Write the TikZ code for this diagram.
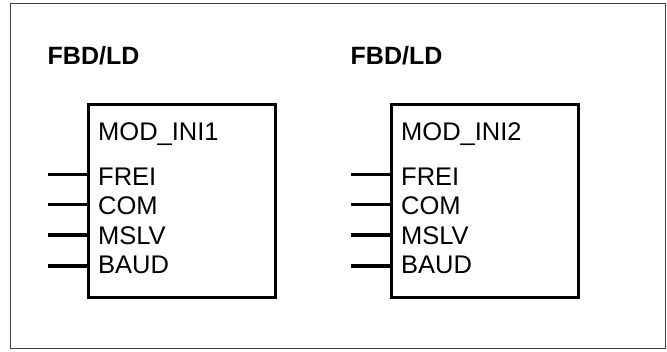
\documentclass[tikz,border=0pt]{standalone}
\usepackage{fontspec}
\setmainfont{Liberation Sans}
\begin{document}
\begin{tikzpicture}[x=1pt,y=-1pt,
  frame/.style={draw=black!75,line width=1.2pt},
  block/.style={draw,line width=3.3pt,minimum width=187pt,minimum height=193pt,inner sep=0pt,anchor=north west},
  pin/.style={line width=3.3pt},
  title/.style={font=\fontsize{25}{25}\selectfont\bfseries,inner sep=0pt,anchor=base west},
  lbl/.style={font=\fontsize{25.5}{25.5}\selectfont,inner sep=0pt,anchor=base west}]
\useasboundingbox (0,0) rectangle (667,351);
\draw[frame] (10.5,3.5) rectangle (665.5,348.5);
\foreach \i/\dx in {1/0,2/303}{
  \begin{scope}[xshift=\dx pt]
  \node[title] (t\i) at (47.5,64) {FBD/LD};
  \node[block] (b\i) at (87,103) {};
  \node[lbl] (n\i) at (98,140) {MOD\_INI\i};
  \node[lbl] (l\i a) at (98,185) {FREI};
  \node[lbl] (l\i b) at (98,214.5) {COM};
  \node[lbl] (l\i c) at (98,244.3) {MSLV};
  \node[lbl] (l\i d) at (98,273.5) {BAUD};
  \coordinate (p\i a) at (48,174.3);
  \coordinate (p\i b) at (48,204.5);
  \coordinate (p\i c) at (48,235);
  \coordinate (p\i d) at (48,266);
  \foreach \k in {a,b,c,d}{
    \draw[pin] (p\i\k) -- (p\i\k -| b\i.west);
  }
  \end{scope}
}
\end{tikzpicture}
\end{document}
